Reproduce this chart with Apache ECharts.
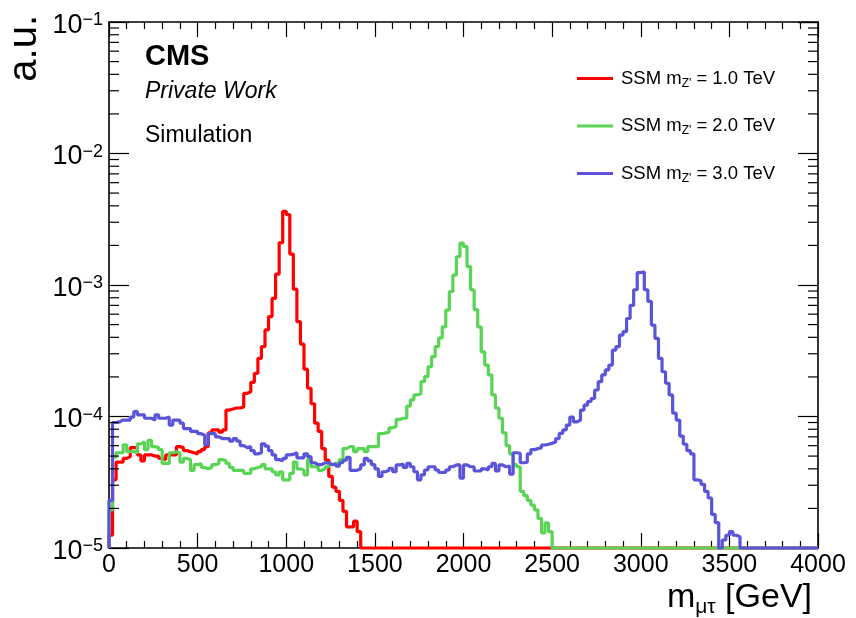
<!DOCTYPE html>
<html>
<head>
<meta charset="utf-8">
<title>m_mutau spectra</title>
<script src="https://cdn.jsdelivr.net/npm/echarts@6/dist/echarts.min.js"></script>
<style>
  html, body { margin: 0; padding: 0; background: #fff; }
  #chart { width: 856px; height: 618px; }
</style>
</head>
<body>
<div id="chart"></div>
<script>
// Normalised m_mutau distributions, 20 GeV bins starting at 0 GeV.
// Values are in units of 1e-5 a.u.; bins past the end of a list are empty.
const z1000 = [
  1.25, 3.3, 4.5, 4.5, 4.8, 4.95, 5.8, 5.8, 5.1, 4.6,
  5.1, 5.1, 5.0, 5.0, 4.8, 4.7, 5.1, 5.1, 5.1, 5.9,
  5.8, 5.5, 5.4, 5.3, 5.2, 5.4, 5.6, 5.9, 7.5, 7.9,
  7.9, 7.6, 7.9, 11.2, 11.4, 11.6, 11.6, 11.8, 15, 15.4,
  18.2, 21.3, 27.7, 34, 45.5, 57.5, 79, 121, 210, 363,
  343, 172, 93, 52.6, 35.5, 22.9, 16.4, 12.5, 8.9, 7.7,
  5.7, 4.67, 3.5, 2.9, 2.7, 2.3, 1.9, 1.45, 1.45, 1.6,
  1.33
];
const z2000 = [
  1.95, 4.9, 5.3, 5.3, 6.1, 5.4, 5.4, 5.3, 6.2, 6.4,
  5.6, 6.6, 5.9, 5.8, 5.6, 4.4, 4.4, 5.3, 5.4, 5.3,
  4.5, 4.8, 4.7, 3.9, 4.3, 4.4, 4.1, 4.0, 4.1, 4.3,
  4.4, 4.7, 4.6, 4.4, 4.1, 3.9, 3.9, 3.9, 3.7, 3.7,
  4.0, 4.1, 4.15, 4.3, 4.0, 4.0, 3.8, 3.6, 3.8, 3.3,
  3.3, 3.7, 4.5, 4.0, 3.9, 3.6, 4.7, 4.15, 4.15, 3.9,
  4.0, 4.15, 4.3, 4.4, 4.4, 4.7, 5.7, 5.9, 5.9, 5.4,
  5.7, 5.7, 5.4, 5.9, 5.9, 5.9, 7.4, 7.5, 7.6, 8.2,
  8.4, 9.5, 9.7, 9.7, 12, 13.4, 14.6, 14.9, 18.4, 20.1,
  23.9, 28.5, 34, 39.6, 48, 64.5, 89, 119, 164, 208,
  196, 138, 92, 65, 48, 31, 24.6, 20.7, 14.6, 11.6,
  9.7, 7.5, 6.0, 5.2, 4.3, 4.15, 2.7, 2.5, 2.3, 2.12,
  1.95, 1.68, 1.3, 1.55, 1.33
];
const z3000 = [
  2.3, 9.0, 9.1, 9.4, 9.4, 9.4, 9.9, 10.9, 10.3, 10.3,
  9.7, 9.7, 9.4, 10.3, 9.7, 9.7, 9.9, 8.6, 9.4, 9.4,
  8.9, 8.1, 8.1, 7.7, 7.7, 7.4, 7.2, 6.1, 7.4, 7.4,
  7.0, 6.8, 6.8, 6.8, 6.5, 6.8, 6.5, 6.0, 5.8, 5.9,
  5.5, 5.2, 5.3, 6.2, 5.95, 5.5, 5.1, 4.7, 4.6, 4.8,
  5.1, 5.15, 5.3, 4.85, 4.85, 5.2, 4.95, 4.45, 4.3, 4.3,
  4.45, 4.45, 4.3, 4.35, 4.2, 4.45, 4.65, 4.9, 3.9, 3.9,
  4.0, 4.28, 4.8, 4.6, 4.3, 4.0, 3.5, 3.8, 3.9, 4.04,
  3.8, 4.28, 4.35, 4.1, 4.4, 4.15, 3.8, 3.3, 3.6, 3.92,
  4.15, 4.15, 3.92, 3.75, 3.75, 3.92, 4.15, 4.28, 4.28, 3.4,
  4.28, 4.15, 4.15, 3.85, 3.85, 4.0, 3.92, 4.15, 4.4, 3.85,
  4.28, 4.15, 4.2, 3.65, 5.3, 5.25, 4.45, 4.5, 5.2, 5.6,
  5.7, 5.8, 6.07, 6.15, 6.25, 6.4, 6.8, 7.44, 7.9, 8.6,
  9.9, 9.1, 9.4, 11.2, 12.2, 13, 13.7, 15.9, 18.4, 20.7,
  22.6, 24.6, 32, 34, 41.6, 44.2, 55.6, 70, 92, 124,
  126, 92, 75, 49.6, 39.3, 27.7, 21.9, 17.9, 14.6, 10.6,
  9.4, 7.1, 6.15, 5.5, 5.2, 3.3, 3.25, 3.05, 2.7, 2.4,
  1.8, 1.56, 0, 1.15, 1.25, 1.33, 1.25, 1.22
];

const seriesNames = ["SSM m_Z' = 1.0 TeV", "SSM m_Z' = 2.0 TeV", "SSM m_Z' = 3.0 TeV"];
const massLabels = ['1.0', '2.0', '3.0'];
const xTicks = [0, 500, 1000, 1500, 2000, 2500, 3000, 3500, 4000];

const BIN_WIDTH = 20;
const N_BINS = 200;
const X_MIN = 0, X_MAX = 4000;
const Y_MIN = 1e-5, Y_MAX = 1e-1;
const UNIT = 1e-5;
const FONT = '"Liberation Sans", Arial, Helvetica, sans-serif';

// Build the outline of a step histogram; empty bins sit on the frame floor.
function histPoints(counts) {
  const pts = [[X_MIN, Y_MIN]];
  for (let i = 0; i < N_BINS; i++) {
    const c = i < counts.length ? counts[i] : 0;
    pts.push([X_MIN + i * BIN_WIDTH, Math.max(c * UNIT, Y_MIN)]);
  }
  pts.push([X_MAX, pts[pts.length - 1][1]]);
  return pts;
}

// Minor tick values of the log axis: 2..9 x each decade.
const minorY = [];
for (let d = -5; d < -1; d++) {
  for (let k = 2; k <= 9; k++) minorY.push(k * Math.pow(10, d));
}

const chart = echarts.init(document.getElementById('chart'), null, { renderer: 'canvas' });

const axisLineStyle = { color: '#000', width: 1.6 };
const tickLineStyle = { color: '#000', width: 1.2 };

function xAxisDef(position, showLabels) {
  return {
    type: 'value', position: position, min: X_MIN, max: X_MAX, interval: 500,
    axisLine: { show: true, onZero: false, lineStyle: axisLineStyle },
    axisTick: { show: true, inside: true, length: 15, lineStyle: tickLineStyle },
    minorTick: { show: true, splitNumber: 5, length: 7, lineStyle: tickLineStyle },
    splitLine: { show: false },
    axisLabel: {
      show: showLabels, color: '#000', fontFamily: FONT, fontSize: 25, margin: 5,
      formatter: v => (xTicks.indexOf(v) >= 0 ? String(v) : '')
    }
  };
}

function yAxisDef(position, showLabels) {
  return {
    type: 'log', logBase: 10, position: position, min: Y_MIN, max: Y_MAX,
    axisLine: { show: true, onZero: false, lineStyle: axisLineStyle },
    axisTick: { show: true, inside: true, length: 20, lineStyle: tickLineStyle },
    splitLine: { show: false },
    axisLabel: {
      show: showLabels, margin: 6, color: '#000',
      padding: [7, 0, 0, 0],
      formatter: v => '{b|10}{e|\u2212' + (-Math.round(Math.log10(v))) + '}',
      rich: {
        b: { fontFamily: FONT, fontSize: 27, lineHeight: 28, color: '#000' },
        e: { fontFamily: FONT, fontSize: 18, lineHeight: 17, verticalAlign: 'top', color: '#000' }
      }
    }
  };
}

const colors = ['#ff0000', '#59d454', '#5954d8'];
const datasets = [z1000, z2000, z3000];

const histSeries = datasets.map((d, i) => ({
  type: 'line',
  name: seriesNames[i],
  data: histPoints(d),
  step: 'end',
  symbol: 'none',
  showSymbol: false,
  clip: false,
  lineStyle: { color: colors[i], width: 3.2 },
  itemStyle: { color: colors[i] },
  emphasis: { disabled: true },
  z: 3 + i
}));

const minorTickSeries = {
  type: 'custom',
  name: 'yMinorTicks',
  coordinateSystem: 'cartesian2d',
  xAxisIndex: 0, yAxisIndex: 0,
  data: minorY.map(v => [X_MIN, v]),
  silent: true,
  clip: false,
  z: 10,
  renderItem: (params, api) => {
    const v = api.value(1);
    const l = api.coord([X_MIN, v]);
    const r = api.coord([X_MAX, v]);
    const st = { stroke: '#000', lineWidth: 1.2 };
    return {
      type: 'group',
      children: [
        { type: 'line', shape: { x1: l[0], y1: l[1], x2: l[0] + 10, y2: l[1] }, style: st },
        { type: 'line', shape: { x1: r[0], y1: r[1], x2: r[0] - 10, y2: r[1] }, style: st }
      ]
    };
  }
};

const option = {
  animation: false,
  backgroundColor: '#fff',
  grid: { left: 109, right: 38, top: 22, bottom: 70, containLabel: false },
  xAxis: [xAxisDef('bottom', true), xAxisDef('top', false)],
  yAxis: [yAxisDef('left', true), yAxisDef('right', false)],
  legend: {
    data: seriesNames,
    orient: 'vertical',
    left: 577, top: 69,
    padding: 0,
    itemGap: 27,
    itemWidth: 36, itemHeight: 3,
    icon: 'rect',
    selectedMode: false,
    formatter: name => {
      const i = seriesNames.indexOf(name);
      return '{a|SSM m}{s|Z\'}{a| = ' + massLabels[i] + ' TeV}';
    },
    textStyle: {
      padding: [0, 0, 0, 3],
      rich: {
        a: { fontFamily: FONT, fontSize: 18.5, lineHeight: 22, color: '#000' },
        s: { fontFamily: FONT, fontSize: 12, lineHeight: 12, verticalAlign: 'bottom', color: '#000' }
      }
    }
  },
  graphic: [
    { type: 'text', x: 145, y: 57, style: { text: 'CMS', font: 'bold 29px ' + FONT, fill: '#000', align: 'left', verticalAlign: 'middle' } },
    { type: 'text', x: 145, y: 92, style: { text: 'Private Work', font: 'italic 23px ' + FONT, fill: '#000', align: 'left', verticalAlign: 'middle' } },
    { type: 'text', x: 145, y: 136, style: { text: 'Simulation', font: '23px ' + FONT, fill: '#000', align: 'left', verticalAlign: 'middle' } },
    {
      type: 'text', x: 25, y: 15, rotation: Math.PI / 2,
      style: { text: 'a.u.', font: '40px ' + FONT, fill: '#000', align: 'right', verticalAlign: 'middle' }
    },
    {
      type: 'text', x: 812, y: 598,
      style: {
        text: '{m|m}{s|\u03bc\u03c4}{m| [GeV]}',
        align: 'right', verticalAlign: 'middle',
        rich: {
          m: { fontFamily: FONT, fontSize: 34, lineHeight: 40, fill: '#000' },
          s: { fontFamily: FONT, fontSize: 21, lineHeight: 19, verticalAlign: 'bottom', fill: '#000' }
        }
      }
    }
  ],
  series: histSeries.concat([minorTickSeries])
};

chart.setOption(option);
</script>
</body>
</html>
